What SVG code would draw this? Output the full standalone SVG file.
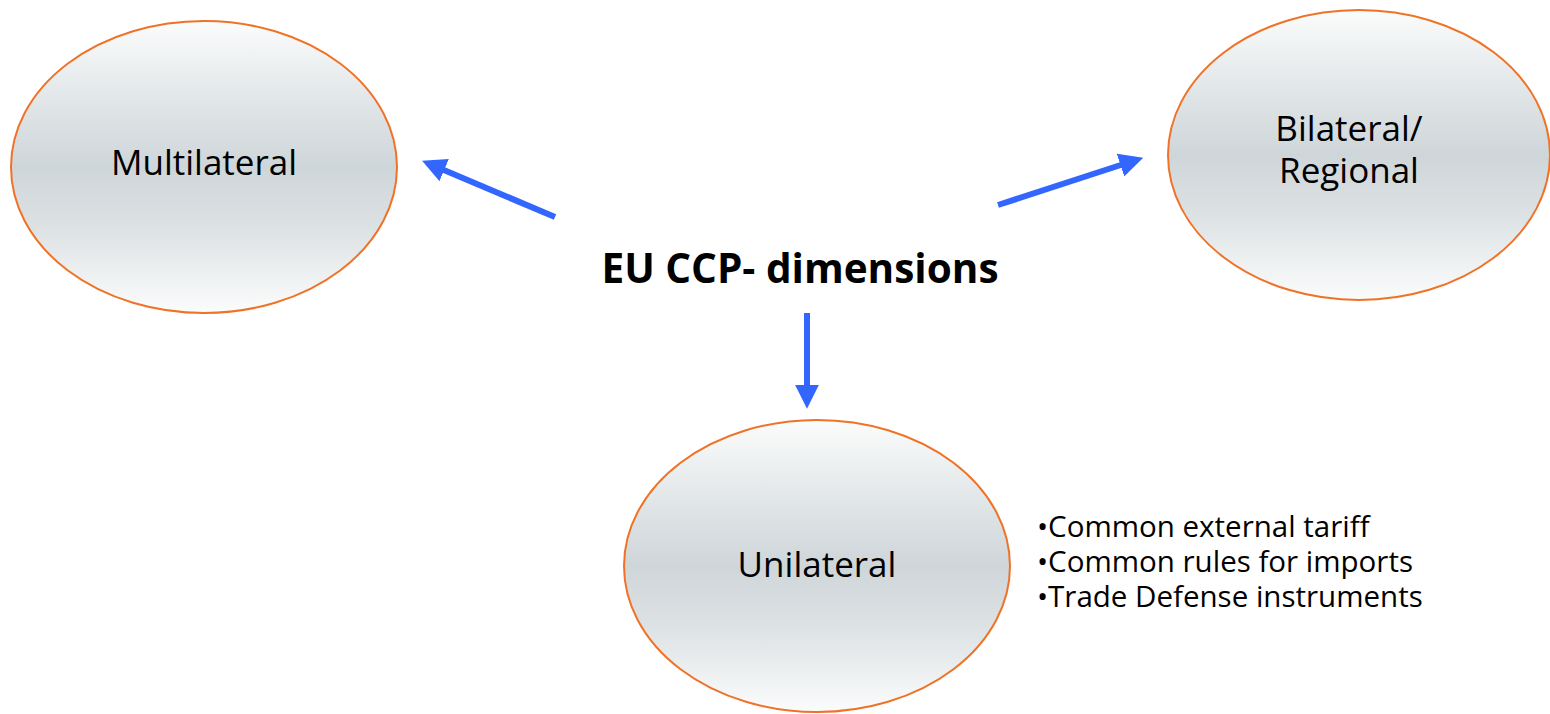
<svg xmlns="http://www.w3.org/2000/svg" width="1550" height="714" viewBox="0 0 1550 714">
<defs>
<linearGradient id="g" x1="0" y1="0" x2="0" y2="1">
<stop offset="0" stop-color="#fbfcfc"/>
<stop offset="0.3" stop-color="#dfe4e6"/>
<stop offset="0.5" stop-color="#cfd6d9"/>
<stop offset="0.7" stop-color="#dce1e3"/>
<stop offset="1" stop-color="#fbfcfc"/>
</linearGradient>
<marker id="ah" markerWidth="4" markerHeight="4" refX="2.2" refY="2" orient="auto" markerUnits="strokeWidth">
<path d="M0,0 L4,2 L0,4 z" fill="#3366ff"/>
</marker>
</defs>
<style>
.node{fill:url(#g);stroke:#f07226;stroke-width:2}
.lbl{font-family:"Open Sans","Noto Sans",sans-serif;font-size:35px;fill:#000;text-anchor:middle}
.conn{stroke:#3366ff;stroke-width:6;fill:none;marker-end:url(#ah)}
.bul{font-family:"Open Sans","Noto Sans",sans-serif;font-size:29.5px;fill:#000}
</style>
<rect width="1550" height="714" fill="#fff"/>
<g id="multilateral">
<ellipse class="node" cx="204" cy="167" rx="193" ry="146"/>
<text class="lbl" x="204" y="175">Multilateral</text>
</g>
<g id="bilateral">
<ellipse class="node" cx="1359" cy="155" rx="191" ry="145"/>
<text class="lbl" x="1349" y="141">Bilateral/</text>
<text class="lbl" x="1349" y="183">Regional</text>
</g>
<g id="unilateral">
<ellipse class="node" cx="817" cy="566" rx="193" ry="146"/>
<text class="lbl" x="817" y="577">Unilateral</text>
</g>
<g id="title">
<text x="800" y="283" font-family="'Open Sans','Noto Sans',sans-serif" font-size="40.5" font-weight="bold" text-anchor="middle">EU CCP- dimensions</text>
</g>
<g id="bullets">
<text class="bul" x="1037" y="537">•Common external tariff</text>
<text class="bul" x="1037" y="572">•Common rules for imports</text>
<text class="bul" x="1037" y="607">•Trade Defense instruments</text>
</g>
<g id="connectors">
<line class="conn" x1="555" y1="217" x2="432" y2="165"/>
<line class="conn" x1="998" y1="205" x2="1133" y2="161"/>
<line class="conn" x1="807" y1="313" x2="807" y2="398"/>
</g>
</svg>
